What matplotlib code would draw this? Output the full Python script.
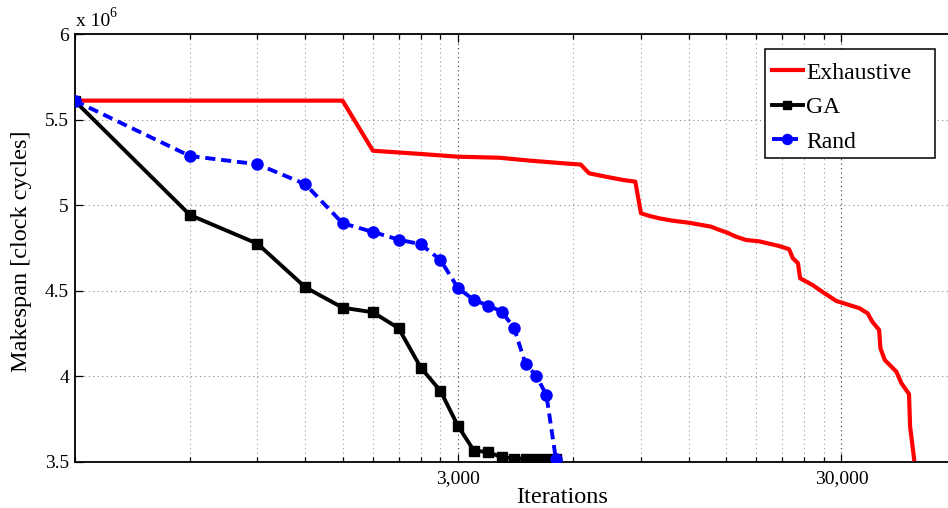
import matplotlib
matplotlib.use("Agg")
import matplotlib.pyplot as plt
from matplotlib.patches import Rectangle
from matplotlib.ticker import FixedLocator, FixedFormatter, NullFormatter

# Iteration counts shared by the GA and random search runs
iters = [300, 600, 900, 1200, 1500, 1800, 2100, 2400, 2700,
         3000, 3300, 3600, 3900, 4200, 4500, 4800, 5100, 5400]

# Best makespan found so far (x 10^6 clock cycles)
ga_makespan = [5.612, 4.943, 4.775, 4.520, 4.401, 4.374, 4.281, 4.050, 3.914,
               3.709, 3.565, 3.556, 3.526, 3.518, 3.518, 3.518, 3.518, 3.518]
rand_makespan = [5.612, 5.288, 5.240, 5.123, 4.895, 4.844, 4.799, 4.772, 4.680,
                 4.516, 4.446, 4.413, 4.378, 4.283, 4.072, 4.002, 3.891, 3.515]

# Exhaustive search trace
exh_iters = [300, 1500, 1800, 2400, 3000, 3850, 4620, 5610, 6270, 6590, 7290,
             8070, 8700, 9000, 9490, 10030, 10860, 12000, 13700, 14400, 15100,
             15900, 16900, 18300, 20600, 21900, 22400, 23100, 23400, 25200,
             27100, 29100, 33400, 35100, 36100, 37600, 37900, 38900, 41700,
             43000, 45000, 45300, 46400]
exh_makespan = [5.612, 5.612, 5.319, 5.300, 5.284, 5.278, 5.261, 5.246, 5.238,
                5.187, 5.167, 5.148, 5.138, 4.953, 4.937, 4.924, 4.910, 4.898,
                4.875, 4.856, 4.840, 4.817, 4.797, 4.789, 4.762, 4.743, 4.690,
                4.661, 4.573, 4.534, 4.485, 4.440, 4.398, 4.368, 4.319, 4.271,
                4.164, 4.095, 4.027, 3.959, 3.896, 3.705, 3.515]

major_x = [3000, 30000]
major_x_labels = ["3,000", "30,000"]
minor_x = [300, 600, 900, 1200, 1500, 1800, 2100, 2400, 2700,
           6000, 9000, 12000, 15000, 18000, 21000, 24000, 27000,
           60000, 90000]
y_ticks = [3.5, 4, 4.5, 5, 5.5, 6]
y_tick_labels = ["3.5", "4", "4.5", "5", "5.5", "6"]

SERIF = ["Liberation Serif", "DejaVu Serif"]
plt.rcParams["font.family"] = SERIF

W, H = 948, 508
fig = plt.figure(figsize=(W / 100, H / 100), dpi=100)
# the plot box runs past the right edge of the canvas
left, right, top, bottom = 74.5, 1042.0, 34.3, 461.7
ax_w, ax_h = right - left, bottom - top
ax = fig.add_axes([left / W, 1 - bottom / H, ax_w / W, ax_h / H])

ax.plot(exh_iters, exh_makespan, color="#ff0000", lw=3.0, label="Exhaustive",
        solid_joinstyle="round", zorder=3)
ax.plot(iters, ga_makespan, color="black", lw=2.8, marker="s", ms=7,
        label="GA", zorder=4)
ax.plot(iters, rand_makespan, color="#0000ff", lw=2.8, ls=(0, (2.6, 1.5)),
        marker="o", ms=8, label="Rand", zorder=5)

ax.set_xscale("log")
ax.set_xlim(300, 100000)
ax.set_ylim(3.5, 6)

ax.xaxis.set_major_locator(FixedLocator(major_x))
ax.xaxis.set_major_formatter(FixedFormatter(major_x_labels))
ax.xaxis.set_minor_locator(FixedLocator(minor_x))
ax.xaxis.set_minor_formatter(NullFormatter())
ax.yaxis.set_major_locator(FixedLocator(y_ticks))
ax.yaxis.set_major_formatter(FixedFormatter(y_tick_labels))

ax.tick_params(which="both", direction="in", top=True, right=False,
               labelsize=14, width=0.9, color="black")
ax.tick_params(which="major", length=6)
ax.tick_params(axis="x", which="major", pad=6)
ax.tick_params(axis="y", which="major", pad=4)
ax.tick_params(which="minor", length=3.5)

ax.grid(True, which="major", axis="x", ls=(0, (1, 3)), color="#333333", lw=0.8)
ax.grid(True, which="minor", axis="x", ls=(0, (1, 3)), color="#9a9a9a", lw=0.8)
ax.grid(True, which="major", axis="y", ls=(0, (1, 3)), color="#8a8a8a", lw=0.8)
ax.set_axisbelow(True)

for s in ax.spines.values():
    s.set_linewidth(1.3)

ax.set_xlabel("Iterations", fontsize=17.5)
ax.xaxis.set_label_coords((562 - left) / ax_w, -(503 - bottom) / ax_h)
ax.xaxis.label.set_va("baseline")
ax.set_ylabel("Makespan [clock cycles]", fontsize=17.5)
ax.yaxis.set_label_coords(-(left - 22) / ax_w, (bottom - 251) / ax_h)
ax.yaxis.label.set_va("center")

# Exponent marker above the y axis
ax.annotate("x 10", xy=(0, 1), xycoords="axes fraction", xytext=(1, 4),
            textcoords="offset pixels", fontsize=14, ha="left", va="bottom")
ax.annotate("6", xy=(0, 1), xycoords="axes fraction", xytext=(35, 14),
            textcoords="offset pixels", fontsize=10, ha="left", va="bottom")

# Legend box with a wider right margin than matplotlib's default frame
box_l, box_t, box_r, box_b = 765, 49, 935, 158
ax.add_patch(Rectangle((box_l / W, 1 - box_b / H), (box_r - box_l) / W,
                       (box_b - box_t) / H, transform=fig.transFigure,
                       facecolor="white", edgecolor="black", lw=1.1,
                       zorder=6, clip_on=False))
leg = ax.legend(loc="upper left",
                bbox_to_anchor=(box_l / W, 1 - (box_t + 6) / H),
                bbox_transform=fig.transFigure, borderaxespad=0,
                fontsize=17, frameon=False, handlelength=1.3,
                handletextpad=0.15, labelspacing=0.55, borderpad=0.3,
                markerscale=0.9)
leg.set_zorder(7)

fig.savefig("out.png", dpi=100)
